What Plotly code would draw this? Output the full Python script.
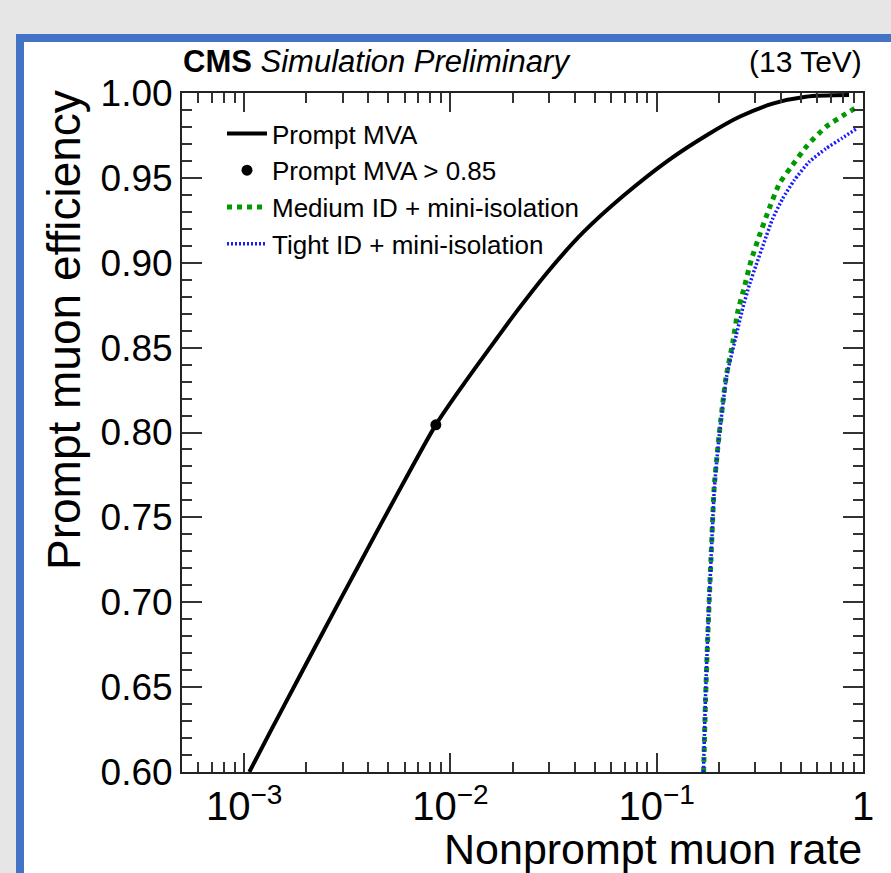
import plotly.graph_objects as go
import math

# ---------------- data ----------------
mva_rate = [1.06e-3, 1.35e-3, 1.85e-3, 2.44e-3, 2.94e-3, 3.55e-3, 4.59e-3, 6.18e-3,
            8.5e-3, 1.16e-2, 1.68e-2, 2.10e-2, 3.04e-2, 4.41e-2, 6.87e-2, 0.1135,
            0.174, 0.252, 0.365, 0.528, 0.856]
mva_eff = [0.600, 0.6245, 0.656, 0.6835, 0.702, 0.7205, 0.7457, 0.7745,
           0.8045, 0.8285, 0.8555, 0.8715, 0.8962, 0.9180, 0.9393, 0.9602,
           0.9750, 0.9860, 0.9937, 0.9978, 0.9988]

wp_rate = [8.5e-3]
wp_eff = [0.8045]

medium_rate = [0.1688, 0.1724, 0.177, 0.184, 0.19, 0.201, 0.217, 0.234, 0.247, 0.266,
               0.287, 0.315, 0.351, 0.393, 0.448, 0.538, 0.660, 0.794, 0.939]
medium_eff = [0.600, 0.642, 0.6815, 0.7306, 0.768, 0.7994, 0.8327, 0.8533, 0.871, 0.8857,
              0.9014, 0.9162, 0.9319, 0.9466, 0.9564, 0.9692, 0.980, 0.9865, 0.9918]

tight_rate = [0.1685, 0.1722, 0.1768, 0.1842, 0.1905, 0.2015, 0.218, 0.243, 0.261, 0.281,
              0.303, 0.332, 0.365, 0.408, 0.464, 0.548, 0.660, 0.794, 0.931]
tight_eff = [0.600, 0.642, 0.6815, 0.7306, 0.768, 0.7994, 0.8327, 0.8573, 0.873, 0.8867,
             0.8985, 0.9122, 0.926, 0.9378, 0.9486, 0.9594, 0.9672, 0.9735, 0.979]

x_range = [5e-4, 1.0]
y_range = [0.60, 1.00]

# ---------------- figure ----------------
W, H = 891, 873
ML, MR, MT, MB = 182, 28, 93, 101
PW, PH = W - ML - MR, H - MT - MB


def px(x):  # pixel -> paper x
    return (x - ML) / PW


def py(y):  # pixel -> paper y
    return (H - MB - y) / PH


FONT = "Liberation Sans, Arial, Helvetica, sans-serif"

fig = go.Figure()
fig.add_trace(go.Scatter(x=mva_rate, y=mva_eff, mode="lines", name="Prompt MVA",
                         line=dict(color="black", width=4, shape="spline", smoothing=0.8)))
fig.add_trace(go.Scatter(x=wp_rate, y=wp_eff, mode="markers", name="Prompt MVA > 0.85",
                         marker=dict(color="black", size=11, symbol="circle")))
fig.add_trace(go.Scatter(x=medium_rate, y=medium_eff, mode="lines",
                         name="Medium ID + mini-isolation",
                         line=dict(color="#009a00", width=5, dash="5px,5px",
                                   shape="spline", smoothing=0.5)))
fig.add_trace(go.Scatter(x=tight_rate, y=tight_eff, mode="lines",
                         name="Tight ID + mini-isolation",
                         line=dict(color="#1a1aff", width=3.5, dash="2px,2px",
                                   shape="spline", smoothing=0.5)))

axis_common = dict(showline=True, linecolor="#222", linewidth=2, mirror="allticks",
                   ticks="inside", tickcolor="#333", tickwidth=1.5, showgrid=False,
                   zeroline=False)

fig.update_xaxes(type="log", range=[math.log10(x_range[0]), math.log10(x_range[1])],
                 dtick=1, exponentformat="power", showexponent="all",
                 ticklen=19, ticklabelstandoff=0,
                 tickfont=dict(family=FONT, size=32, color="black"),
                 minor=dict(ticks="inside", ticklen=10, dtick="D1", tickcolor="#333",
                            tickwidth=1.5, showgrid=False),
                 **axis_common)
fig.update_yaxes(range=y_range, dtick=0.05, tickformat=".2f", ticklen=20,
                 ticklabelstandoff=0,
                 tickfont=dict(family=FONT, size=37, color="black"),
                 minor=dict(ticks="inside", ticklen=10, dtick=0.01, tickcolor="#333",
                            tickwidth=1.5, showgrid=False),
                 **axis_common)

shapes = [dict(type="rect", xref="paper", yref="paper", layer="below",
               x0=px(20), x1=px(940), y0=py(930), y1=py(38),
               fillcolor="white", line=dict(color="#4472c4", width=8))]

annotations = [
    dict(xref="paper", yref="paper", x=px(181), y=py(62), xanchor="left", yanchor="middle",
         text="<b>CMS</b> <i>Simulation Preliminary</i>", showarrow=False,
         font=dict(family=FONT, size=31, color="black")),
    dict(xref="paper", yref="paper", x=px(864), y=py(62), xanchor="right", yanchor="middle",
         text="(13 TeV)", showarrow=False, font=dict(family=FONT, size=30, color="black")),
    dict(xref="paper", yref="paper", x=px(864), y=py(849), xanchor="right", yanchor="middle",
         text="Nonprompt muon rate", showarrow=False,
         font=dict(family=FONT, size=43, color="black")),
    dict(xref="paper", yref="paper", x=px(64), y=py(88), xanchor="center", yanchor="top",
         text="Prompt muon efficiency", textangle=-90, showarrow=False,
         font=dict(family=FONT, size=46, color="black")),
]

fig.update_layout(
    width=W, height=H,
    margin=dict(l=ML, r=MR, t=MT, b=MB),
    paper_bgcolor="#e6e6e6", plot_bgcolor="white",
    shapes=shapes, annotations=annotations,
    showlegend=True,
    legend=dict(x=px(222), y=py(110), xanchor="left", yanchor="top",
                bgcolor="rgba(0,0,0,0)", borderwidth=0,
                font=dict(family=FONT, size=26, color="black"),
                tracegroupgap=0, itemwidth=40),
)

fig.write_html(
    "out.html",
    config={"displayModeBar": False},
    post_script="document.body.style.margin='0px';"
                "document.body.style.background='#e6e6e6';",
)
